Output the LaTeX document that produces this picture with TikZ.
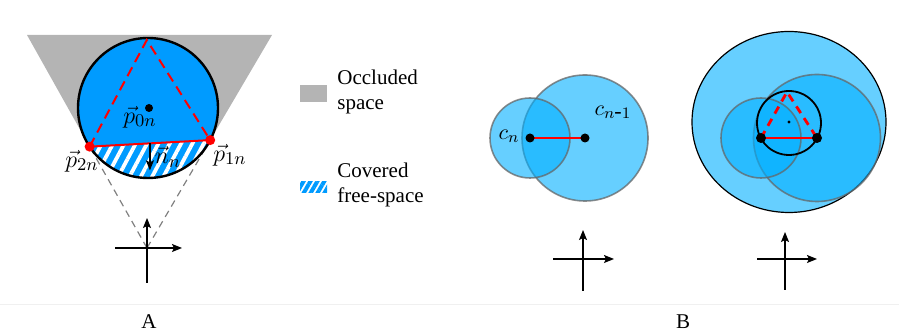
\documentclass[tikz,border=0pt]{standalone}
\usepackage{fontspec}
\setmainfont{Liberation Serif}
\usetikzlibrary{arrows.meta,patterns.meta,calc}
\definecolor{occl}{RGB}{180,180,180}
\definecolor{obst}{RGB}{0,155,255}
\definecolor{cell}{RGB}{0,175,255}
\tikzset{
  axis/.style={line width=0.6pt, -{Stealth[length=5pt,width=4pt,inset=1pt]}},
  dot/.style={circle, fill=black, inner sep=0pt, minimum size=4pt},
  reddot/.style={circle, fill=red, inner sep=0pt, minimum size=5pt},
  cellcirc/.style={fill=cell, fill opacity=0.6, draw=black!60, draw opacity=0.75, line width=0.8pt},
  lbl/.style={inner sep=1pt, font=\fontsize{12.5}{14}\selectfont},
  clbl/.style={inner sep=1pt, font=\fontsize{11}{13}\selectfont},
  legtext/.style={align=left, inner sep=0pt, font=\fontsize{10.5}{12.5}\selectfont},
}

\begin{document}
\begin{tikzpicture}[x=0.5pt, y=-0.5pt]
        \useasboundingbox (0,0) rectangle (899,335);
        \draw[black!6, line width=0.4pt] (0,304) -- (899,304);

        % A: occluded wedge and obstacle
        \coordinate (cam) at (147,248);
        \coordinate (o0) at (148,108);
        \coordinate (p1) at ($(o0)+(27.3:70)$);
        \coordinate (p2) at ($(o0)+(146.5:70)$);
        \coordinate (p3) at ($(o0)+(-91:68)$);
        \coordinate (tl) at (27,35);
        \coordinate (tr) at (272,35);

        \fill[occl] (p2) -- (tl) -- (tr) -- (p1) -- cycle;
        \draw[gray, line width=0.6pt, dash pattern=on 3.5pt off 2.5pt] (cam) -- (p2);
        \draw[gray, line width=0.6pt, dash pattern=on 3.5pt off 2.5pt] (cam) -- (p1);

        \fill[obst] (o0) circle (70);
        \begin{scope}
          \clip (o0) circle (70);
          \fill[pattern={Lines[angle=62, distance=5pt, line width=1.9pt]}, pattern color=white]
            (p2) -- (p1) -- (230,200) -- (70,200) -- cycle;
        \end{scope}
        \draw[line width=1.2pt] (o0) circle (70);

        \draw[red, line width=1pt] (p2) -- (p1);
        \draw[red, line width=1pt, dash pattern=on 5pt off 3pt] (p2) -- (p3) -- (p1);
        \node[reddot] (d1) at (p1) {};
        \node[reddot] (d2) at (p2) {};
        \node[dot] (c0) at (149,108) {};

        \coordinate (mid) at ($(p2)!0.5!(p1)$);
        \coordinate (ntip) at ($(mid)+(0,27)$);
        \draw[line width=0.7pt, -{Stealth[length=5pt,width=4pt,inset=1pt]}] (mid) -- (ntip);

        \node[lbl] (lp0) at (140,117) {$\vec{p}_{0n}$};
        \node[lbl] (lp1) at (230,155) {$\vec{p}_{1n}$};
        \node[lbl] (lp2) at (82,161) {$\vec{p}_{2n}$};
        \node[lbl] (lnn) at (168,157) {$\vec{n}_n$};

        \coordinate (ay0) at (147,283);
        \coordinate (ay1) at (147,218);
        \coordinate (ax0) at (115,248);
        \coordinate (ax1) at (182,248);
        \draw[axis] (ay0) -- (ay1);
        \draw[axis] (ax0) -- (ax1);

        % legend
        \fill[occl] (300,85) rectangle (327,102);
        \node[legtext, anchor=base west] (tocc) at (337,110) {Occluded\\space};
        \fill[pattern={Lines[angle=60, distance=3pt, line width=2pt]}, pattern color=obst]
          (300,182) rectangle (327,193);
        \node[legtext, anchor=base west] (tcov) at (337,203) {Covered\\free-space};

        % B: two consecutive cells
        \coordinate (cn) at (530,138);
        \coordinate (cm) at (585,138);
        \draw[cellcirc] (cm) circle (63);
        \draw[cellcirc] (cn) circle (40);
        \draw[red, line width=1.1pt] (cn) -- (cm);
        \node[dot, minimum size=4.5pt] (dn) at (cn) {};
        \node[dot, minimum size=4.5pt] (dm) at (cm) {};
        \node[clbl] (lcn) at (509,136) {$c_n$};
        \node[clbl] (lcm) at (613,112) {$c_{n\mbox{-}1}$};

        \draw[axis] (583,291) -- (583,230);
        \draw[axis] (553,259) -- (614,259);

        % B: merged cell
        \coordinate (oc) at (789,122);
        \coordinate (ca) at (761,138);
        \coordinate (cb) at (817,138);
        \coordinate (qt) at (787,92);
        \draw[fill=cell, fill opacity=0.6, line width=0.6pt] (oc) ellipse [x radius=97, y radius=90.5];
        \draw[cellcirc] (cb) circle (63.5);
        \draw[cellcirc] (ca) circle (40);
        \draw[line width=0.9pt] (789,123) circle (32);
        \draw[red, line width=1.2pt] (ca) -- (cb);
        \draw[red, line width=1.4pt, dash pattern=on 4pt off 3pt] (ca) -- (qt) -- (cb);
        \node[dot, minimum size=5pt] (da) at (ca) {};
        \node[dot, minimum size=5pt] (db) at (cb) {};
        \node[dot, minimum size=1.6pt] (dc) at (oc) {};

        \draw[axis] (785,290) -- (785,232);
        \draw[axis] (757,259) -- (817,259);

        \node[legtext] (capA) at (149,322) {A};
        \node[legtext] (capB) at (683,322) {B};
      \end{tikzpicture}
\end{document}
